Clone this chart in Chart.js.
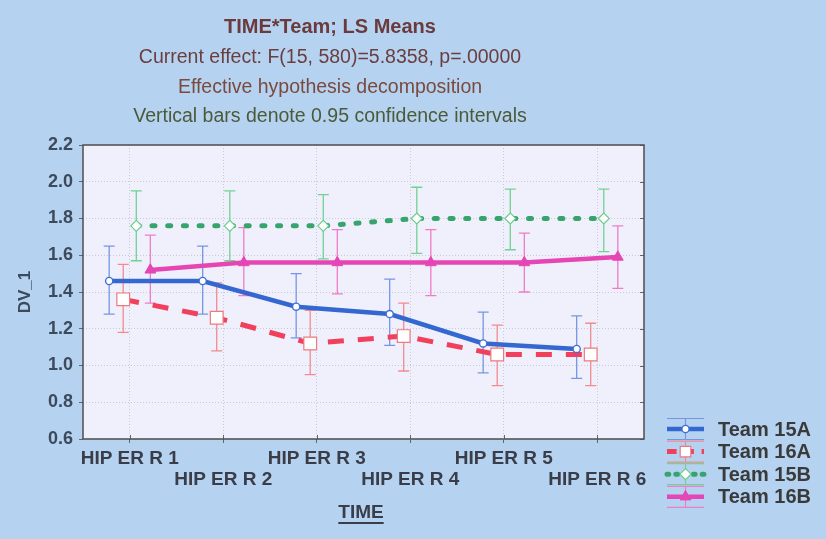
<!DOCTYPE html>
<html>
<head>
<meta charset="utf-8">
<script src="https://cdn.jsdelivr.net/npm/chart.js@4/dist/chart.umd.min.js"></script>
<style>
  html, body { margin: 0; padding: 0; background: #b5d3f1; }
  canvas { display: block; }
</style>
</head>
<body>
<canvas id="c" width="826" height="539"></canvas>
<script>
// Measurement occasions
const timeLabels = ['HIP ER R 1', 'HIP ER R 2', 'HIP ER R 3', 'HIP ER R 4', 'HIP ER R 5', 'HIP ER R 6'];

// LS means per team, with 95% confidence limits
const team15A    = [1.46, 1.46, 1.32, 1.28, 1.12, 1.09];
const team15A_lo = [1.28, 1.28, 1.15, 1.11, 0.96, 0.93];
const team15A_hi = [1.65, 1.65, 1.50, 1.47, 1.29, 1.27];

const team16A    = [1.36, 1.26, 1.12, 1.16, 1.06, 1.06];
const team16A_lo = [1.18, 1.08, 0.95, 0.97, 0.89, 0.89];
const team16A_hi = [1.55, 1.45, 1.30, 1.34, 1.22, 1.23];

const team15B    = [1.76, 1.76, 1.76, 1.80, 1.80, 1.80];
const team15B_lo = [1.57, 1.57, 1.58, 1.61, 1.63, 1.62];
const team15B_hi = [1.95, 1.95, 1.93, 1.97, 1.96, 1.96];

const team16B    = [1.52, 1.56, 1.56, 1.56, 1.56, 1.59];
const team16B_lo = [1.34, 1.38, 1.39, 1.38, 1.40, 1.42];
const team16B_hi = [1.71, 1.75, 1.74, 1.74, 1.72, 1.76];

const teamNames = ['Team 15A', 'Team 16A', 'Team 15B', 'Team 16B'];

// Y axis range / step
const yMin = 0.6, yMax = 2.2, yStep = 0.2;

const FONT = '"Liberation Sans", Arial, Helvetica, sans-serif';

// Horizontal nudge of each team within a time slot (so whiskers don't overlap)
const nudge = [-0.22, -0.07, 0.07, 0.22];

function points(values, k) {
  return values.map((v, i) => ({ x: i + 1 + nudge[k], y: v }));
}

const datasets = [
  {
    label: teamNames[0], data: points(team15A, 0), lower: team15A_lo, upper: team15A_hi,
    borderColor: '#3467cf', borderWidth: 4.5, errorColor: '#7596e6',
    pointStyle: 'circle', pointRadius: 3.6, pointBackgroundColor: '#ffffff',
    pointBorderColor: '#3f6fd2', pointBorderWidth: 1.4
  },
  {
    label: teamNames[1], data: points(team16A, 1), lower: team16A_lo, upper: team16A_hi,
    borderColor: '#f0405c', borderWidth: 5, borderDash: [16, 14], errorColor: '#f28a8f',
    pointStyle: 'rect', pointRadius: 9, pointBackgroundColor: '#ffffff',
    pointBorderColor: '#f0787f', pointBorderWidth: 1.2
  },
  {
    label: teamNames[2], data: points(team15B, 2), lower: team15B_lo, upper: team15B_hi,
    borderColor: '#36a46d', borderWidth: 5, borderDash: [3, 12.7], borderCapStyle: 'round',
    errorColor: '#72d193',
    pointStyle: 'rectRot', pointRadius: 5.5, pointBackgroundColor: '#ffffff',
    pointBorderColor: '#6ccd8c', pointBorderWidth: 1.2
  },
  {
    label: teamNames[3], data: points(team16B, 3), lower: team16B_lo, upper: team16B_hi,
    borderColor: '#e645b4', borderWidth: 4.5, errorColor: '#f07cc8',
    pointStyle: 'triangle', pointRadius: 6.2, pointBackgroundColor: '#e645b4',
    pointBorderColor: '#e645b4', pointBorderWidth: 1
  }
];

function drawMarker(ctx, style, x, y, r, fill, stroke, lw) {
  ctx.beginPath();
  if (style === 'circle') {
    ctx.arc(x, y, r, 0, Math.PI * 2);
  } else if (style === 'rect') {
    const s = r * Math.SQRT1_2;
    ctx.rect(x - s, y - s, 2 * s, 2 * s);
  } else if (style === 'rectRot') {
    ctx.moveTo(x - r, y); ctx.lineTo(x, y - r); ctx.lineTo(x + r, y); ctx.lineTo(x, y + r);
    ctx.closePath();
  } else if (style === 'triangle') {
    const a = 2 * Math.PI / 3;
    ctx.moveTo(x, y - r);
    ctx.lineTo(x + Math.sin(a) * r, y - Math.cos(a) * r);
    ctx.lineTo(x + Math.sin(2 * a) * r, y - Math.cos(2 * a) * r);
    ctx.closePath();
  }
  ctx.fillStyle = fill; ctx.fill();
  ctx.lineWidth = lw; ctx.strokeStyle = stroke; ctx.stroke();
}

// Canvas and plot-area backgrounds
const backdrop = {
  id: 'backdrop',
  beforeDraw(chart) {
    const { ctx, chartArea: a } = chart;
    ctx.save();
    ctx.fillStyle = '#b5d3f1';
    ctx.fillRect(0, 0, chart.width, chart.height);
    ctx.fillStyle = '#eff0fb';
    ctx.fillRect(a.left, a.top, a.right - a.left, a.bottom - a.top);
    ctx.restore();
  },
  afterDraw(chart) {
    const { ctx, chartArea: a, scales } = chart;
    ctx.save();
    // inner tick marks on right and bottom edges
    ctx.strokeStyle = '#666';
    ctx.lineWidth = 1;
    ctx.beginPath();
    scales.y.ticks.forEach(t => {
      const py = Math.round(scales.y.getPixelForValue(t.value)) + 0.5;
      ctx.moveTo(a.right - 4, py); ctx.lineTo(a.right, py);
    });
    scales.x.ticks.forEach(t => {
      const px = Math.round(scales.x.getPixelForValue(t.value)) + 0.5;
      ctx.moveTo(px, a.bottom - 4); ctx.lineTo(px, a.bottom);
    });
    ctx.stroke();
    // frame
    ctx.strokeStyle = '#4d4d4d';
    ctx.lineWidth = 1.5;
    ctx.strokeRect(a.left, a.top, a.right - a.left, a.bottom - a.top);
    ctx.restore();
  }
};

// Confidence-interval whiskers
const errorBars = {
  id: 'errorBars',
  beforeDatasetsDraw(chart) {
    const ctx = chart.ctx, ys = chart.scales.y;
    chart.data.datasets.forEach((ds, i) => {
      const meta = chart.getDatasetMeta(i);
      ctx.save();
      ctx.strokeStyle = ds.errorColor;
      ctx.lineWidth = 1.3;
      ctx.beginPath();
      meta.data.forEach((pt, j) => {
        const x = pt.x;
        const yl = ys.getPixelForValue(ds.lower[j]);
        const yh = ys.getPixelForValue(ds.upper[j]);
        ctx.moveTo(x, yl); ctx.lineTo(x, yh);
        ctx.moveTo(x - 5.5, yl); ctx.lineTo(x + 5.5, yl);
        ctx.moveTo(x - 5.5, yh); ctx.lineTo(x + 5.5, yh);
      });
      ctx.stroke();
      ctx.restore();
    });
  }
};

// Headings, axis titles and the legend
const annotations = {
  id: 'annotations',
  afterDraw(chart) {
    const ctx = chart.ctx;
    ctx.save();
    ctx.textAlign = 'center';
    ctx.textBaseline = 'middle';
    const cx = 330;
    ctx.font = 'bold 20px ' + FONT;
    ctx.fillStyle = '#6a3a3c';
    ctx.fillText('TIME*Team; LS Means', cx, 27);
    ctx.font = '19.5px ' + FONT;
    ctx.fillStyle = '#6a3e3e';
    ctx.fillText('Current effect: F(15, 580)=5.8358, p=.00000', cx, 58);
    ctx.fillStyle = '#7a4a3e';
    ctx.fillText('Effective hypothesis decomposition', cx, 88);
    ctx.fillStyle = '#4c5a3a';
    ctx.fillText('Vertical bars denote 0.95 confidence intervals', cx, 117);

    // x axis title, underlined
    ctx.font = 'bold 19px ' + FONT;
    ctx.fillStyle = '#3a3d4a';
    const xt = 'TIME';
    const w = ctx.measureText(xt).width;
    const tx = 361;
    ctx.fillText(xt, tx, 513);
    ctx.fillRect(tx - w / 2, 522, w, 2);

    // y axis title
    ctx.save();
    ctx.translate(25, (chart.chartArea.top + chart.chartArea.bottom) / 2);
    ctx.rotate(-Math.PI / 2);
    ctx.font = 'bold 17px ' + FONT;
    ctx.fillStyle = '#3d4a5c';
    ctx.fillText('DV_1', 0, 0);
    ctx.restore();

    // legend
    ctx.textAlign = 'left';
    chart.data.datasets.forEach((ds, i) => {
      const y = 429 + i * 22.6;
      const x0 = 667, x1 = 704, xm = (x0 + x1) / 2;
      // whisker sample
      ctx.strokeStyle = ds.errorColor;
      ctx.lineWidth = 1.2;
      ctx.setLineDash([]);
      ctx.beginPath();
      ctx.moveTo(x0, y - 10.5); ctx.lineTo(x1, y - 10.5);
      ctx.moveTo(x0, y + 10.5); ctx.lineTo(x1, y + 10.5);
      ctx.moveTo(xm, y - 10.5); ctx.lineTo(xm, y + 10.5);
      ctx.stroke();
      // line sample
      ctx.strokeStyle = ds.borderColor;
      ctx.lineWidth = ds.borderWidth;
      ctx.lineCap = ds.borderCapStyle || 'butt';
      ctx.setLineDash(ds.borderDash ? [ds.borderDash[0] * 0.6, ds.borderDash[1] * 0.55] : []);
      ctx.beginPath();
      ctx.moveTo(x0, y); ctx.lineTo(x1, y);
      ctx.stroke();
      ctx.setLineDash([]);
      ctx.lineCap = 'butt';
      drawMarker(ctx, ds.pointStyle, xm, y, Math.min(ds.pointRadius, 7.5), ds.pointBackgroundColor,
                 ds.pointBorderColor, ds.pointBorderWidth);
      ctx.font = 'bold 20px ' + FONT;
      ctx.fillStyle = '#3a3a3a';
      ctx.fillText(ds.label, 718, y + 1);
    });
    ctx.restore();
  }
};

new Chart(document.getElementById('c'), {
  type: 'line',
  data: { datasets },
  options: {
    responsive: false,
    animation: false,
    devicePixelRatio: 1,
    layout: { padding: { left: 0, top: 145, right: 182, bottom: 30 } },
    elements: { line: { tension: 0, fill: false } },
    plugins: { legend: { display: false }, tooltip: { enabled: false }, title: { display: false } },
    scales: {
      x: {
        type: 'linear',
        min: 0.5,
        max: 6.5,
        afterBuildTicks(s) { s.ticks = timeLabels.map((_, i) => ({ value: i + 1 })); },
        afterFit(s) { s.height = 70; },
        border: { display: false, dash: [1, 2] },
        grid: { color: '#c8c9d6', lineWidth: 1, tickLength: 4, tickColor: '#666', tickBorderDash: [] },
        ticks: {
          autoSkip: false,
          maxRotation: 0,
          padding: 5,
          color: '#3a3d48',
          font: { family: FONT, size: 19, weight: 'bold', lineHeight: 1.13 },
          callback(v) {
            const i = Math.round(v) - 1;
            return i % 2 === 0 ? [timeLabels[i]] : ['', timeLabels[i]];
          }
        }
      },
      y: {
        min: yMin,
        max: yMax,
        afterFit(s) { s.width = 83; },
        border: { display: false, dash: [1, 2] },
        grid: { color: '#c8c9d6', lineWidth: 1, tickLength: 4, tickColor: '#666', tickBorderDash: [] },
        ticks: {
          stepSize: yStep,
          padding: 6,
          color: '#3d4a5c',
          font: { family: FONT, size: 18, weight: 'bold' },
          callback(v) { return Number(v).toFixed(1); }
        }
      }
    }
  },
  plugins: [backdrop, errorBars, annotations]
});
</script>
</body>
</html>
